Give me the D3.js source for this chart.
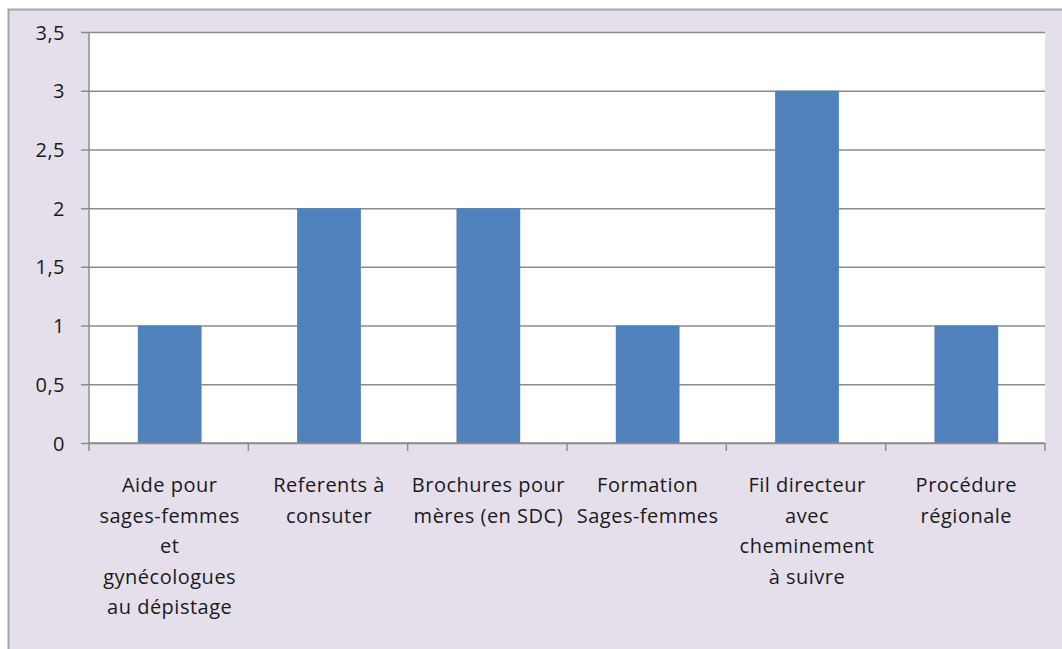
<!DOCTYPE html>
<html><head><meta charset="utf-8">
<script src="https://cdn.jsdelivr.net/npm/d3@7"></script>
<style>html,body{margin:0;padding:0;background:#fff;}svg{display:block;}</style>
</head><body>
<script>
const categories = [
  "Aide pour|sages-femmes|et|gynécologues|au dépistage",
  "Referents à|consuter",
  "Brochures pour|mères (en SDC)",
  "Formation|Sages-femmes",
  "Fil directeur|avec|cheminement|à suivre",
  "Procédure|régionale"
];
const values = [1, 2, 2, 1, 3, 1];
const yTicks = [0, 0.5, 1, 1.5, 2, 2.5, 3, 3.5];
const yTickLabels = ["0", "0,5", "1", "1,5", "2", "2,5", "3", "3,5"];

const W = 1062, H = 649;
const svg = d3.select("body").append("svg").attr("width", W).attr("height", H);
const font = "Open Sans";

svg.append("rect").attr("x", 8.5).attr("y", 9.5).attr("width", W).attr("height", H)
  .attr("fill", "#e5dfec").attr("stroke", "#a6a6a6").attr("stroke-width", 2);

const pL = 89, pR = 1045, pT = 32, pB = 443;
svg.append("rect").attr("x", pL).attr("y", pT).attr("width", pR - pL).attr("height", pB - pT).attr("fill", "#fff");

const x = d3.scaleBand().domain(categories).range([pL, pR]).paddingInner(0.6).paddingOuter(0.3);
const y = d3.scaleLinear().domain([0, 3.5]).range([pB, pT]);

// gridlines + y axis
const yAxis = d3.axisLeft(y).tickValues(yTicks).tickFormat((d, i) => yTickLabels[i]).tickSize(-(pR - pL)).tickPadding(0);
const gy = svg.append("g").attr("transform", `translate(${pL},0)`).call(yAxis);
gy.select(".domain").remove();
gy.selectAll(".tick line").attr("stroke", "#8c8c8c").attr("stroke-width", 1.5).attr("x1", -8);
gy.selectAll(".tick text").attr("x", -24).attr("dy", "0.35em").attr("font-family", font).attr("font-size", 20)
  .attr("letter-spacing", 0.5).attr("fill", "#1a1a1a");

// bars
svg.append("g").selectAll("rect").data(values).join("rect")
  .attr("x", (d, i) => x(categories[i]) + 1)
  .attr("y", d => y(d))
  .attr("width", x.bandwidth())
  .attr("height", d => y(0) - y(d))
  .attr("fill", "#4f81bd");

// axis lines
svg.append("line").attr("x1", pL).attr("x2", pL).attr("y1", pT).attr("y2", pB).attr("stroke", "#8c8c8c").attr("stroke-width", 1.5);
svg.append("line").attr("x1", pL).attr("x2", pR).attr("y1", pB).attr("y2", pB).attr("stroke", "#8c8c8c").attr("stroke-width", 1.5);

// category ticks
const bounds = d3.range(categories.length + 1).map(i => pL + i * (pR - pL) / categories.length);
svg.append("g").selectAll("line").data(bounds).join("line")
  .attr("x1", d => d).attr("x2", d => d).attr("y1", pB).attr("y2", pB + 8)
  .attr("stroke", "#8c8c8c").attr("stroke-width", 1.5);

// category labels
const lbl = svg.append("g").selectAll("text").data(categories).join("text")
  .attr("text-anchor", "middle")
  .attr("font-family", font).attr("font-size", 20).attr("letter-spacing", 0.5).attr("fill", "#1a1a1a")
  .attr("transform", d => `translate(${x(d) + x.bandwidth() / 2 + 1},${pB + 49})`);
lbl.each(function(d) {
  d3.select(this).selectAll("tspan").data(d.split("|")).join("tspan")
    .attr("x", 0).attr("y", (t, i) => i * 30.5).text(t => t);
});
</script>
</body></html>
